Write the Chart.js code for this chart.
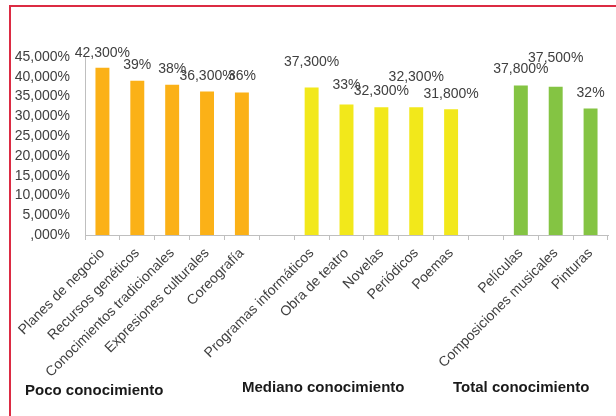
<!DOCTYPE html>
<html>
<head>
<meta charset="utf-8">
<script src="https://cdn.jsdelivr.net/npm/chart.js@4.4.1/dist/chart.umd.min.js"></script>
<style>
  body { margin: 0; background: #fff; }
  #wrap { position: relative; width: 616px; height: 416px; }
  #frame { position: absolute; left: 9px; top: 5px; right: 0; bottom: 0;
           border-top: 2px solid #dc2b43; border-left: 2px solid #dc2b43; pointer-events: none; }
</style>
</head>
<body>
<div id="wrap">
  <canvas id="c" width="616" height="416"></canvas>
  <div id="frame"></div>
</div>
<script>
// data (percent)
var groupNames = ['Poco conocimiento', 'Mediano conocimiento', 'Total conocimiento'];
var pocoCats = ['Planes de negocio', 'Recursos genéticos', 'Conocimientos tradicionales', 'Expresiones culturales', 'Coreografía'];
var pocoVals = [42.3, 39, 38, 36.3, 36];
var medianoCats = ['Programas informáticos', 'Obra de teatro', 'Novelas', 'Periódicos', 'Poemas'];
var medianoVals = [37.3, 33, 32.3, 32.3, 31.8];
var totalCats = ['Películas', 'Composiciones musicales', 'Pinturas'];
var totalVals = [37.8, 37.5, 32];
var yMin = 0, yMax = 45, yStep = 5;

// layout bits (label lift above bar top, px)
var liftPoco = [15, 16, 16, 15, 16];
var liftMediano = [25, 19, 16, 30, 15];
var liftTotal = [16, 29, 15];
var groupColors = ['#fbb117', '#f2e81b', '#84c443'];

var categories = [], values = [], colors = [], lifts = [];
function addGroup(cats, vals, lf, col, last) {
  for (var i = 0; i < cats.length; i++) {
    categories.push(cats[i]); values.push(vals[i]); colors.push(col); lifts.push(lf[i]);
  }
  if (!last) { categories.push(''); values.push(null); colors.push(col); lifts.push(0); }
}
addGroup(pocoCats, pocoVals, liftPoco, groupColors[0]);
addGroup(medianoCats, medianoVals, liftMediano, groupColors[1]);
addGroup(totalCats, totalVals, liftTotal, groupColors[2], true);

function fmtLabel(v) {
  if (Number.isInteger(v)) return v + '%';
  return v.toFixed(3).replace('.', ',') + '%';
}
function fmtTick(v) {
  var s = Number(v).toFixed(3).replace('.', ',');
  if (s.indexOf('0,') === 0) s = s.substring(1);
  return s + '%';
}

var FONT = '"Liberation Sans", Arial, sans-serif';

var labelPlugin = {
  id: 'barLabels',
  afterDatasetsDraw: function(chart) {
    var ctx = chart.ctx;
    var meta = chart.getDatasetMeta(0);
    ctx.save();
    ctx.font = '14px ' + FONT;
    ctx.fillStyle = '#404040';
    ctx.textAlign = 'center';
    ctx.textBaseline = 'middle';
    meta.data.forEach(function(bar, i) {
      var v = values[i];
      if (v == null) return;
      ctx.fillText(fmtLabel(v), bar.x, bar.y - lifts[i]);
    });
    // group captions under the axis labels
    ctx.font = 'bold 15px ' + FONT;
    ctx.fillStyle = '#1a1a1a';
    ctx.textAlign = 'left';
    ctx.textBaseline = 'alphabetic';
    ctx.fillText(groupNames[0], 25, 395);
    ctx.fillText(groupNames[1], 242, 392);
    ctx.fillText(groupNames[2], 453, 392);
    ctx.restore();
  }
};

var chart = new Chart(document.getElementById('c'), {
  type: 'bar',
  data: {
    labels: categories,
    datasets: [{
      data: values,
      backgroundColor: colors,
      borderWidth: 0,
      barPercentage: 0.4,
      categoryPercentage: 1
    }]
  },
  options: {
    responsive: false,
    animation: false,
    layout: { padding: { top: 57, right: 8, left: 0, bottom: 0 } },
    plugins: { legend: { display: false }, tooltip: { enabled: false } },
    scales: {
      x: {
        offset: true,
        grid: { drawOnChartArea: false, drawTicks: true, tickLength: 5, color: '#bfbfbf', offset: true },
        border: { display: true, color: '#bfbfbf', width: 1 },
        ticks: {
          autoSkip: false, minRotation: 45, maxRotation: 45, padding: 5,
          color: '#404040', font: { family: FONT, size: 14 }
        },
        afterFit: function(s) { s.height = 416 - 235; }
      },
      y: {
        min: yMin, max: yMax,
        grid: { display: false, drawTicks: false },
        border: { display: true, color: '#bfbfbf', width: 1 },
        ticks: {
          autoSkip: false,
          stepSize: yStep, padding: 15, color: '#404040',
          font: { family: FONT, size: 14 },
          callback: function(v) { return fmtTick(v); }
        },
        afterFit: function(s) { s.width = 85; }
      }
    }
  },
  plugins: [labelPlugin]
});
</script>
</body>
</html>
